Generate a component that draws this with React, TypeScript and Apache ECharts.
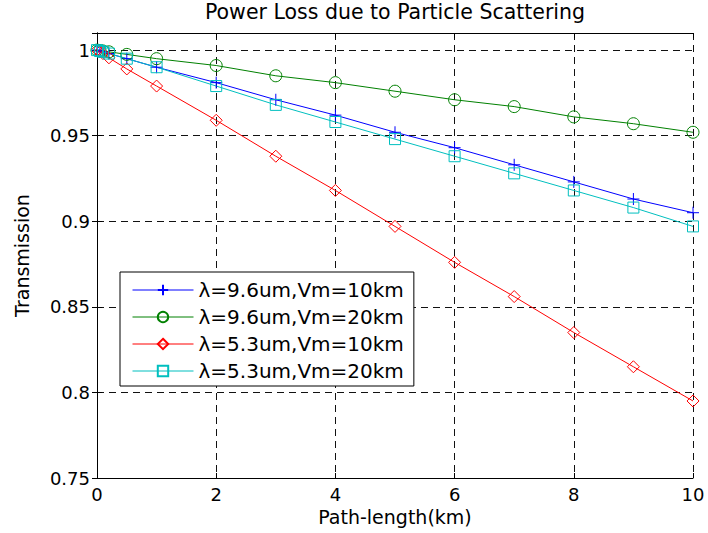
import React, { useEffect, useRef } from "react";
import * as echarts from "echarts";

const titleText = "Power Loss due to Particle Scattering";
const xName = "Path-length(km)";
const yName = "Transmission";

const pathLength = [0, 0.05, 0.1, 0.2, 0.5, 1, 2, 3, 4, 5, 6, 7, 8, 9, 10];

const seriesNames = [
  "λ=9.6um,Vm=10km",
  "λ=9.6um,Vm=20km",
  "λ=5.3um,Vm=10km",
  "λ=5.3um,Vm=20km",
];

const t96v10 = [1, 0.9995, 0.999, 0.998, 0.995, 0.990, 0.981, 0.971, 0.962, 0.952, 0.943, 0.933, 0.923, 0.913, 0.905];
const t96v20 = [1, 0.9998, 0.9995, 0.999, 0.9975, 0.995, 0.991, 0.985, 0.981, 0.976, 0.971, 0.967, 0.961, 0.957, 0.952];
const t53v10 = [1, 0.999, 0.998, 0.9955, 0.989, 0.979, 0.959, 0.938, 0.918, 0.897, 0.876, 0.856, 0.835, 0.815, 0.795];
const t53v20 = [1, 0.9995, 0.999, 0.998, 0.995, 0.990, 0.979, 0.968, 0.958, 0.948, 0.938, 0.928, 0.918, 0.908, 0.897];

const colors = ["#0000ff", "#008000", "#ff0000", "#00bfbf"];
const symbols = ["path://M6,0L6,12M0,6L12,6", "circle", "diamond", "rect"];
const symbolSizes = [12, 12, 12, 11];

const FONT = "DejaVu Sans";

export default function App() {
  const ref = useRef<HTMLDivElement>(null);
  useEffect(() => {
    if (!ref.current) return;
    const chart = echarts.init(ref.current, undefined, { renderer: "svg" });
    const allData = [t96v10, t96v20, t53v10, t53v20];
    const series = allData.map((vals, i) => ({
      name: seriesNames[i],
      type: "line",
      xAxisIndex: 0,
      yAxisIndex: 0,
      data: pathLength.map((x, j) => [x, vals[j]]),
      symbol: symbols[i],
      symbolSize: symbolSizes[i],
      showAllSymbol: true,
      color: colors[i],
      lineStyle: { color: colors[i], width: 1 },
      itemStyle: { color: "transparent", borderColor: colors[i], borderWidth: 1 },
      emphasis: { disabled: true },
      z: 3,
    }));
    const axisCommonX = {
      type: "value",
      min: 0,
      max: 10,
      interval: 2,
      axisLine: { show: true, lineStyle: { color: "#000", width: 1 } },
      axisTick: { show: true, inside: true, length: 5, lineStyle: { color: "#000" } },
    };
    const axisCommonY = {
      type: "value",
      min: 0.75,
      max: 1.01,
      interval: 0.05,
      axisLine: { show: true, lineStyle: { color: "#000", width: 1 } },
      axisTick: { show: true, inside: true, length: 5, lineStyle: { color: "#000" } },
    };
    chart.setOption({
      animation: false,
      backgroundColor: "#ffffff",
      title: {
        text: titleText,
        left: 395,
        textAlign: "center",
        top: 1,
        padding: 0,
        textStyle: { fontFamily: FONT, fontSize: 20.5, fontWeight: "normal", color: "#000" },
      },
      grid: { left: 97, right: 15, top: 33, bottom: 55, show: false },
      legend: {
        orient: "vertical",
        left: 120,
        top: 272,
        padding: [8, 10, 5, 12],
        itemWidth: 61,
        itemHeight: 13,
        itemGap: 7,
        backgroundColor: "#ffffff",
        borderColor: "#000",
        borderWidth: 1,
        borderRadius: 0,
        selectedMode: false,
        lineStyle: { width: 1 },
        textStyle: { fontFamily: FONT, fontSize: 20, color: "#000", lineHeight: 20 },
        data: seriesNames,
        z: 10,
      },
      xAxis: [
        {
          ...axisCommonX,
          position: "bottom",
          name: xName,
          nameLocation: "middle",
          nameGap: 27,
          nameTextStyle: { fontFamily: FONT, fontSize: 19, color: "#000" },
          axisLabel: { fontFamily: FONT, fontSize: 18, color: "#000", margin: 7 },
          splitLine: { show: true, lineStyle: { color: "#111", type: [7, 5], width: 1 } },
        },
        {
          ...axisCommonX,
          position: "top",
          axisLabel: { show: false },
          splitLine: { show: false },
        },
      ],
      yAxis: [
        {
          ...axisCommonY,
          position: "left",
          name: yName,
          nameLocation: "middle",
          nameGap: 66,
          nameTextStyle: { fontFamily: FONT, fontSize: 19, color: "#000" },
          axisLabel: { fontFamily: FONT, fontSize: 18, color: "#000", margin: 7, showMaxLabel: false },
          splitLine: { show: true, lineStyle: { color: "#111", type: [7, 5], width: 1 } },
        },
        {
          ...axisCommonY,
          position: "right",
          axisLabel: { show: false },
          splitLine: { show: false },
        },
      ],
      series,
    });
    return () => chart.dispose();
  }, []);
  return (
    <div
      ref={ref}
      style={{ position: "fixed", left: 0, top: 0, width: 708, height: 533, background: "#fff" }}
    />
  );
}
